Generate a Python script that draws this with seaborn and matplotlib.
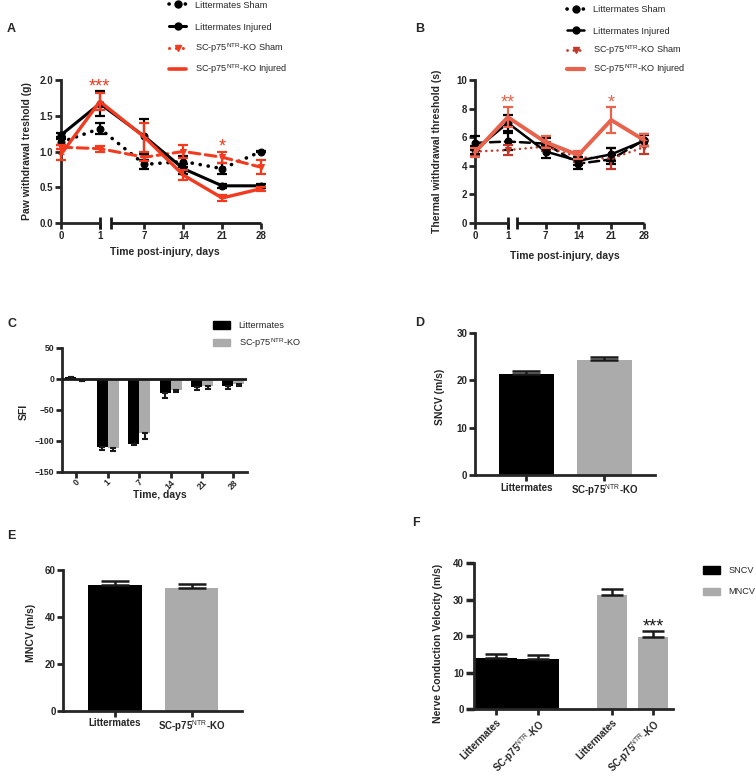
import numpy as np
import pandas as pd
import matplotlib
matplotlib.use("Agg")
import matplotlib.pyplot as plt
import seaborn as sns
from matplotlib.lines import Line2D
from matplotlib.patches import Patch

# ---------------- data ----------------
day_labels = ["0", "1", "7", "14", "21", "28"]
KO = r"SC-p75$^{\mathrm{NTR}}$-KO"
genotypes = ["Littermates", KO]

# Panel A: paw withdrawal threshold (g)
a_lm_sham = [1.13, 1.32, 0.82, 0.86, 0.76, 1.00]
a_lm_sham_err = [0.04, 0.08, 0.06, 0.08, 0.08, 0.01]
a_lm_inj = [1.23, 1.67, 1.21, 0.76, 0.52, 0.52]
a_lm_inj_err = [0.03, 0.17, 0.24, 0.07, 0.03, 0.03]
a_ko_sham = [1.06, 1.04, 0.92, 1.00, 0.92, 0.78]
a_ko_sham_err = [0.03, 0.04, 0.05, 0.09, 0.08, 0.10]
a_ko_inj = [0.96, 1.70, 1.20, 0.67, 0.35, 0.48]
a_ko_inj_err = [0.08, 0.12, 0.20, 0.07, 0.04, 0.03]
a_stars = {"1": "***", "21": "*"}

# Panel B: thermal withdrawal threshold (s)
b_lm_sham = [5.6, 5.7, 5.55, 4.15, 4.45, 5.8]
b_lm_sham_err = [0.5, 0.6, 0.4, 0.4, 0.3, 0.4]
b_lm_inj = [5.1, 7.0, 5.0, 4.35, 4.8, 5.75]
b_lm_inj_err = [0.3, 0.55, 0.45, 0.3, 0.45, 0.4]
b_ko_sham = [5.0, 5.1, 5.35, 4.6, 4.5, 5.3]
b_ko_sham_err = [0.3, 0.35, 0.3, 0.3, 0.75, 0.5]
b_ko_inj = [4.95, 7.4, 5.65, 4.75, 7.2, 5.8]
b_ko_inj_err = [0.3, 0.7, 0.4, 0.3, 0.9, 0.4]
b_stars = {"1": "**", "21": "*"}

# Panel C: SFI
c_lm = [2, -110, -105, -23, -13, -12]
c_lm_err = [1, 5, 2, 8, 5, 4]
c_ko = [-3, -112, -88, -18, -11, -8]
c_ko_err = [1, 4, 9, 4, 6, 4]

# Panel D: SNCV
d_vals = [21.2, 24.2]
d_err = [0.8, 0.7]
# Panel E: MNCV
e_vals = [53.8, 52.4]
e_err = [1.6, 1.6]
# Panel F: nerve conduction velocity
f_sncv = [14.1, 13.9]
f_sncv_err = [1.1, 1.1]
f_mncv = [31.2, 19.8]
f_mncv_err = [1.7, 1.6]
f_stars = [None, "***"]

# ---------------- style ----------------
sns.set_theme(style="ticks")
plt.rcParams["font.family"] = ["Liberation Sans", "DejaVu Sans"]
plt.rcParams["mathtext.fontset"] = "custom"
plt.rcParams["mathtext.rm"] = "Liberation Sans"
plt.rcParams["mathtext.bf"] = "Liberation Sans:bold"

BLACK = "#000000"
GREY = "#ABABAB"
RED_A = "#F23A1F"
RED_B = "#E8624C"
RED_BS = "#C0392B"
TICK_FS = 7
LAB_FS = 7.5
LEG_FS = 6.6
DOT = (0, (0.05, 2.2))

W, H = 756, 778
fig = plt.figure(figsize=(W / 100, H / 100), dpi=100)


def fax(l, t, r, b):
    return fig.add_axes([l / W, 1 - b / H, (r - l) / W, (b - t) / H])


def style_axes(ax):
    sns.despine(ax=ax)
    for s in ["left", "bottom"]:
        ax.spines[s].set_linewidth(2)
    ax.tick_params(width=2, length=4, labelsize=TICK_FS, pad=1.5)
    for lab in ax.get_xticklabels() + ax.get_yticklabels():
        lab.set_fontweight("bold")


def legend_rows(handles, labels, x, ys, **kw):
    for h, l, y in zip(handles, labels, ys):
        fig.legend([h], [l], loc="center left", bbox_to_anchor=(x / W, 1 - y / H),
                   frameon=False, fontsize=LEG_FS, borderpad=0, borderaxespad=0,
                   handletextpad=0.9, **kw)


# layout positions for the broken time axis
t_pos = [0, 1, 2.15, 3.15, 4.15, 5.15]
t_brk = 1.29


def line_panel(ax, series, ylim, yticks, yfmt, stars, star_color):
    for vals, errs, color, ls, marker, lw, ms in series:
        sns.lineplot(x=t_pos, y=vals, ax=ax, color=color, linestyle=ls, lw=lw,
                     marker=marker, markersize=ms, markeredgecolor=color,
                     dash_capstyle="round", errorbar=None, clip_on=False, zorder=3)
        ax.errorbar(t_pos, vals, yerr=errs, fmt="none", ecolor=color, elinewidth=1.6,
                    capsize=3.5, capthick=1.6, clip_on=False, zorder=3)
    ax.set_xlim(t_pos[0], t_pos[-1])
    ax.set_ylim(*ylim)
    ax.set_yticks(yticks)
    ax.set_yticklabels([yfmt.format(v) for v in yticks])
    ax.set_xticks(t_pos)
    ax.set_xticklabels(day_labels)
    style_axes(ax)
    ax.spines["bottom"].set_bounds(t_pos[0], t_pos[1])
    ax.plot([t_brk, t_pos[-1]], [ylim[0], ylim[0]], color="k", lw=2, clip_on=False,
            solid_capstyle="butt")
    ax.plot([t_pos[1], t_brk], [ylim[0], ylim[0]], ls="none", marker="|", ms=9,
            mew=2, color="k", clip_on=False)
    for d, s in stars.items():
        i = day_labels.index(d)
        top = max(v[0][i] + v[1][i] for v in series)
        ax.text(t_pos[i], top, s, color=star_color, fontsize=13, ha="center",
                va="baseline")


labs = ["Littermates Sham", "Littermates Injured", KO + " Sham", KO + " Injured"]

# ---------------- Panel A ----------------
axA = fax(61, 80, 261, 223)
line_panel(axA, [
    (a_lm_sham, a_lm_sham_err, BLACK, DOT, "o", 2.6, 5),
    (a_ko_sham, a_ko_sham_err, RED_A, (0, (3.5, 1.8)), "v", 2.2, 4),
    (a_lm_inj, a_lm_inj_err, BLACK, "-", "o", 2.2, 5),
    (a_ko_inj, a_ko_inj_err, RED_A, "-", "_", 2.4, 5),
], (0, 2.0), [0, 0.5, 1.0, 1.5, 2.0], "{:.1f}", a_stars, RED_A)
axA.set_ylabel("Paw withdrawal treshold (g)", fontsize=LAB_FS, fontweight="bold")
axA.yaxis.set_label_coords(-0.147, 0.5)
axA.set_xlabel("Time post-injury, days", fontsize=LAB_FS, fontweight="bold")
axA.xaxis.set_label_coords(0.52, -0.165)

legA = [
    Line2D([], [], color=BLACK, ls=DOT, lw=2.6, marker="o", ms=5, dash_capstyle="round"),
    Line2D([], [], color=BLACK, ls="-", lw=2.2, marker="o", ms=5),
    Line2D([], [], color=RED_A, ls=DOT, lw=2.2, marker="v", ms=4, dash_capstyle="round"),
    Line2D([], [], color=RED_A, ls="-", lw=2.6, marker="_", ms=5),
]
legend_rows(legA, labs, 169, [5, 27, 48, 69], handlelength=1.9)

# ---------------- Panel B ----------------
axB = fax(475, 80, 644, 223)
line_panel(axB, [
    (b_lm_sham, b_lm_sham_err, BLACK, (0, (4, 2)), "o", 1.8, 5),
    (b_ko_sham, b_ko_sham_err, RED_BS, DOT, "v", 1.8, 4),
    (b_lm_inj, b_lm_inj_err, BLACK, "-", "o", 1.8, 5),
    (b_ko_inj, b_ko_inj_err, RED_B, "-", "_", 2.8, 5),
], (0, 10), [0, 2, 4, 6, 8, 10], "{:d}", b_stars, RED_B)
axB.set_ylabel("Thermal withdrawal threshold (s)", fontsize=LAB_FS, fontweight="bold")
axB.yaxis.set_label_coords(-0.197, 0.5)
axB.set_xlabel("Time post-injury, days", fontsize=LAB_FS, fontweight="bold")
axB.xaxis.set_label_coords(0.53, -0.195)

legB = [
    Line2D([], [], color=BLACK, ls=DOT, lw=2.6, marker="o", ms=5, dash_capstyle="round"),
    Line2D([], [], color=BLACK, ls="-", lw=1.8, marker="o", ms=5),
    Line2D([], [], color=RED_BS, ls=DOT, lw=2.0, marker="v", ms=4, dash_capstyle="round"),
    Line2D([], [], color=RED_B, ls="-", lw=3, marker="_", ms=5),
]
legend_rows(legB, labs, 567, [10, 31, 50, 69], handlelength=1.9)

# ---------------- Panel C ----------------
axC = fax(61.7, 347.7, 246.7, 471.7)
dfC = pd.DataFrame({
    "day": day_labels * 2,
    "group": ["Littermates"] * 6 + ["KO"] * 6,
    "SFI": c_lm + c_ko,
})
sns.barplot(data=dfC, x="day", y="SFI", hue="group", order=day_labels,
            hue_order=["Littermates", "KO"], palette=[BLACK, GREY], width=0.7,
            saturation=1, errorbar=None, legend=False, ax=axC, edgecolor="none")
for cont, vals, errs in zip(axC.containers, [c_lm, c_ko], [c_lm_err, c_ko_err]):
    xs = [p.get_x() + p.get_width() / 2 for p in cont.patches]
    lo = [e if v < 0 else 0 for v, e in zip(vals, errs)]
    hi = [e if v >= 0 else 0 for v, e in zip(vals, errs)]
    axC.errorbar(xs, vals, yerr=[lo, hi], fmt="none", ecolor="k", elinewidth=1.5,
                 capsize=2.5, capthick=1.5, zorder=4)
axC.axhline(0, color="k", lw=2, zorder=5)
axC.set_xlim(-0.46, 5.42)
axC.set_ylim(-150, 50)
axC.set_yticks([-150, -100, -50, 0, 50])
axC.set_xticks(range(6))
axC.set_xticklabels(day_labels, rotation=45, ha="center")
style_axes(axC)
axC.tick_params(labelsize=6.2)
axC.tick_params(axis="x", pad=0.5)
axC.set_ylabel("SFI", fontsize=LAB_FS, fontweight="bold")
axC.yaxis.set_label_coords(-0.18, 0.48)
axC.set_xlabel("Time, days", fontsize=LAB_FS, fontweight="bold")
axC.xaxis.set_label_coords(0.53, -0.145)
legend_rows([Patch(color=BLACK), Patch(color=GREY)], ["Littermates", KO], 213,
            [325.5, 343], handlelength=1.9, handleheight=0.9)


# ---------------- Panels D, E ----------------
def simple_bar(ax, vals, errs, ylim, yticks, ylabel, xlim, lab_x):
    sns.barplot(x=genotypes, y=vals, hue=genotypes, palette=[BLACK, GREY], width=0.7,
                saturation=1, errorbar=None, legend=False, ax=ax, edgecolor="none")
    xs = [p.get_x() + p.get_width() / 2 for p in ax.patches]
    ax.errorbar(xs, vals, yerr=[[0] * len(errs), errs], fmt="none", ecolor="k",
                elinewidth=1.8, capsize=10, capthick=1.8, zorder=4)
    ax.set_xlim(*xlim)
    ax.set_ylim(*ylim)
    ax.set_yticks(yticks)
    style_axes(ax)
    ax.set_ylabel(ylabel, fontsize=LAB_FS, fontweight="bold")
    ax.yaxis.set_label_coords(lab_x, 0.55)


axD = fax(475, 332.7, 655, 475)
simple_bar(axD, d_vals, d_err, (0, 30), [0, 10, 20, 30], "SNCV (m/s)", (-0.66, 1.65),
           -0.167)
axE = fax(63.3, 570, 242.3, 710.7)
simple_bar(axE, e_vals, e_err, (0, 60), [0, 20, 40, 60], "MNCV (m/s)", (-0.67, 1.66),
           -0.153)

# ---------------- Panel F ----------------
f_pos_sncv = [0, 1]
f_pos_mncv = [2.76, 3.73]
axF = fax(474.3, 563.3, 672.7, 709.3)
sns.barplot(x=f_pos_sncv, y=f_sncv, color=BLACK, native_scale=True, width=1.0,
            saturation=1, errorbar=None, ax=axF, edgecolor="none")
sns.barplot(x=f_pos_mncv, y=f_mncv, color=GREY, native_scale=True, width=0.74,
            saturation=1, errorbar=None, ax=axF, edgecolor="none")
xsF = [p.get_x() + p.get_width() / 2 for p in axF.patches]
valsF = f_sncv + f_mncv
errsF = f_sncv_err + f_mncv_err
axF.errorbar(xsF, valsF, yerr=[[0] * 4, errsF], fmt="none", ecolor="k",
             elinewidth=1.8, capsize=8, capthick=1.8, zorder=4)
for x, v, e, s in zip(xsF[2:], f_mncv, f_mncv_err, f_stars):
    if s:
        axF.text(x, v + e, s, fontsize=13, ha="center", va="baseline", color="k")
axF.set_xlim(-0.51, 4.2)
axF.set_ylim(0, 40)
axF.set_yticks([0, 10, 20, 30, 40])
axF.set_xticks(xsF)
axF.set_xticklabels(genotypes * 2, rotation=45, ha="right", rotation_mode="anchor")
style_axes(axF)
axF.tick_params(axis="y", length=6, width=2.5)
axF.set_ylabel("Nerve Conduction Velocity (m/s)", fontsize=LAB_FS, fontweight="bold")
axF.yaxis.set_label_coords(-0.156, 0.45)
legend_rows([Patch(color=BLACK), Patch(color=GREY)], ["SNCV", "MNCV"], 703,
            [570.7, 592], handlelength=1.9, handleheight=0.9)

# ---------------- panel letters ----------------
for letter, x, y in [("A", 7, 29), ("B", 415, 29), ("C", 7, 324), ("D", 415, 323),
                     ("E", 7, 536), ("F", 412, 523)]:
    fig.text(x / W, 1 - y / H, letter, fontsize=9, fontweight="bold", va="center",
             ha="left")

fig.savefig("out.png", dpi=100)
